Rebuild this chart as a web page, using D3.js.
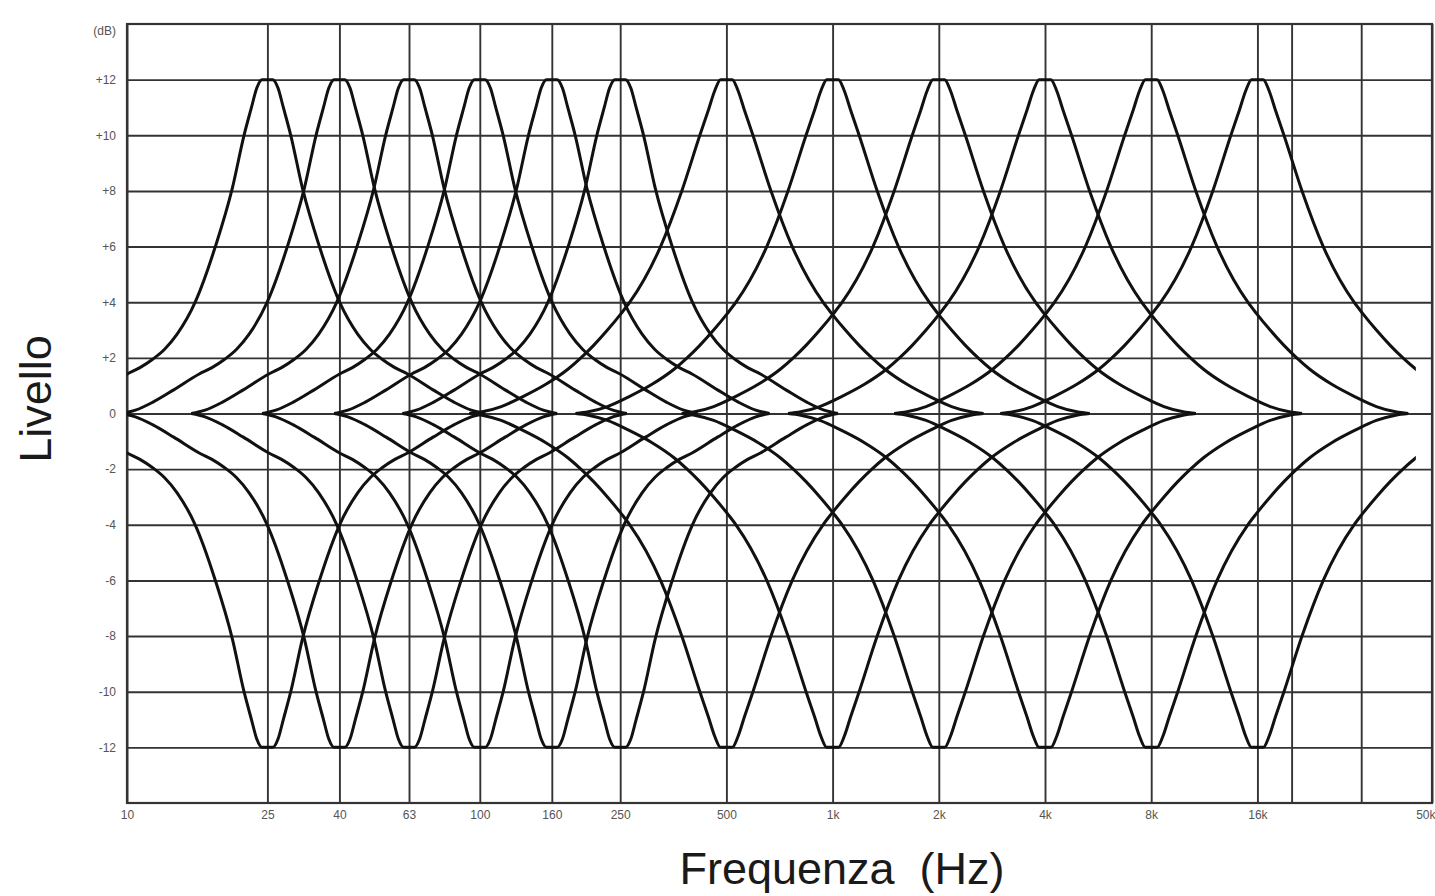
<!DOCTYPE html>
<html>
<head>
<meta charset="utf-8">
<script src="https://cdn.jsdelivr.net/npm/d3@7"></script>
<style>
  body { margin: 0; background: #fff; }
  svg { display: block; font-family: "Liberation Sans", Arial, sans-serif; }
  .grid line { stroke: #333; stroke-width: 1.9; }
  .grid path { stroke: none; }
  .ticks text { fill: #555; font-size: 12px; }
  .ticks path { stroke: none; }
  .curve { fill: none; stroke: #111; stroke-width: 3; stroke-linejoin: round; }
  .title { fill: #1a1a1a; font-size: 45px; }
</style>
</head>
<body>
<svg width="1435" height="896"></svg>
<script>
// Equalizer bands (centre frequency in Hz) and the shape family each one uses
const bandCenters = [25, 40, 63, 100, 160, 250, 500, 1000, 2000, 4000, 8000, 16000]
const bandShapes = ['narrow', 'narrow', 'narrow', 'narrow', 'narrow', 'narrow',
  'wide', 'wide', 'wide', 'wide', 'wide', 'wide']
// Every band is drawn fully boosted and fully cut
const bandGains = [12, -12]

// Response of one boosted band: octaves from centre -> dB
const narrowOffsets = [0, 0.05, 0.1, 0.15, 0.22, 0.33, 0.49, 0.68, 0.85, 0.97, 1.08, 1.2, 1.32, 1.56, 1.76, 1.92, 2.05]
const narrowLevels = [12, 12, 11.7, 11.0, 10, 8.1, 6, 4, 2.85, 2.3, 1.95, 1.65, 1.42, 0.85, 0.4, 0.12, 0]
const wideOffsets = [0, 0.055, 0.11, 0.17, 0.25, 0.42, 0.62, 0.91, 0.99, 1.12, 1.25, 1.37, 1.49, 1.7, 1.92, 2.12, 2.3, 2.42]
const wideLevels = [12, 12, 11.6, 10.9, 10, 8, 6, 4, 3.6, 3.0, 2.45, 2.0, 1.6, 1.05, 0.6, 0.25, 0.06, 0]

// Frequency span the curves are plotted over
const curveExtent = [10, 45000]

// Axes
const freqTicks = [10, 25, 40, 63, 100, 160, 250, 500, 1000, 2000, 4000, 8000, 16000, 50000]
const freqLabels = ['10', '25', '40', '63', '100', '160', '250', '500', '1k', '2k', '4k', '8k', '16k', '50k']
const extraFreqLines = [20000, 31500]
const levelTicks = [14, 12, 10, 8, 6, 4, 2, 0, -2, -4, -6, -8, -10, -12]
const levelLabels = ['(dB)', '+12', '+10', '+8', '+6', '+4', '+2', '0', '-2', '-4', '-6', '-8', '-10', '-12']
const levelDomain = [-14, 14]

const margin = { top: 24, right: 3, bottom: 93, left: 127 }
const width = 1435 - margin.left - margin.right
const height = 896 - margin.top - margin.bottom

const svg = d3.select('svg')

const x = d3.scaleLog()
  .domain([freqTicks[0], freqTicks[freqTicks.length - 1]])
  .range([0, width])

const y = d3.scaleLinear()
  .domain(levelDomain)
  .range([height, 0])

const chart = svg.append('g')
  .attr('transform', `translate(${margin.left}, ${margin.top})`)

// Horizontal grid
chart.append('g')
  .attr('class', 'grid')
  .call(d3.axisLeft(y)
    .tickValues(levelTicks.filter(d => d > levelDomain[0] && d < levelDomain[1]))
    .tickSize(-width)
    .tickFormat(''))

// Vertical grid
chart.append('g')
  .attr('class', 'grid')
  .attr('transform', `translate(0, ${height})`)
  .call(d3.axisBottom(x)
    .tickValues(freqTicks.concat(extraFreqLines))
    .tickSize(-height)
    .tickFormat(''))

// Frame
chart.append('rect')
  .attr('width', width)
  .attr('height', height)
  .attr('fill', 'none')
  .attr('stroke', '#333')
  .attr('stroke-width', 2.2)

// Tick labels
const xLabels = chart.append('g')
  .attr('class', 'ticks')
  .attr('transform', `translate(0, ${height})`)
  .call(d3.axisBottom(x)
    .tickValues(freqTicks)
    .tickSize(0)
    .tickPadding(7)
    .tickFormat((d, i) => freqLabels[i]))
// last label sits on the right edge of the page
xLabels.selectAll('.tick')
  .filter(d => d === freqTicks[freqTicks.length - 1])
  .select('text')
  .attr('text-anchor', 'end')
  .attr('dx', margin.right)

const yLabels = chart.append('g')
  .attr('class', 'ticks')
  .call(d3.axisLeft(y)
    .tickValues(levelTicks)
    .tickSize(0)
    .tickPadding(11)
    .tickFormat((d, i) => levelLabels[i]))
yLabels.selectAll('.tick')
  .filter(d => d === levelDomain[1])
  .select('text')
  .attr('dy', '0.9em')

// Clip the curves to the plotted span
chart.append('clipPath')
  .attr('id', 'plot-clip')
  .append('rect')
  .attr('x', x(curveExtent[0]))
  .attr('y', -10)
  .attr('width', x(curveExtent[1]) - x(curveExtent[0]))
  .attr('height', height + 20)

const shapes = {
  narrow: { offsets: narrowOffsets, levels: narrowLevels },
  wide: { offsets: wideOffsets, levels: wideLevels }
}

// Build the response points of one band (mirrored around its centre)
function bandPoints(center, shapeName, gain) {
  const { offsets, levels } = shapes[shapeName]
  const sign = gain / levels[0]
  const pts = []
  for (let k = offsets.length - 1; k > 0; k--) {
    pts.push([center * Math.pow(2, -offsets[k]), levels[k] * sign])
  }
  for (let k = 0; k < offsets.length; k++) {
    pts.push([center * Math.pow(2, offsets[k]), levels[k] * sign])
  }
  return pts
}

const line = d3.line()
  .x(d => x(d[0]))
  .y(d => y(d[1]))
  .curve(d3.curveMonotoneX)

const curves = []
bandCenters.forEach((center, i) => {
  bandGains.forEach(gain => curves.push(bandPoints(center, bandShapes[i], gain)))
})

chart.append('g')
  .attr('clip-path', 'url(#plot-clip)')
  .selectAll('path')
  .data(curves)
  .enter()
  .append('path')
  .attr('class', 'curve')
  .attr('d', line)

// Axis titles
svg.append('text')
  .attr('class', 'title')
  .attr('transform', 'translate(51, 399) rotate(-90)')
  .attr('text-anchor', 'middle')
  .text('Livello')

svg.append('text')
  .attr('class', 'title')
  .attr('x', 842)
  .attr('y', 884)
  .attr('text-anchor', 'middle')
  .text('Frequenza\u00a0 (Hz)')
</script>
</body>
</html>
